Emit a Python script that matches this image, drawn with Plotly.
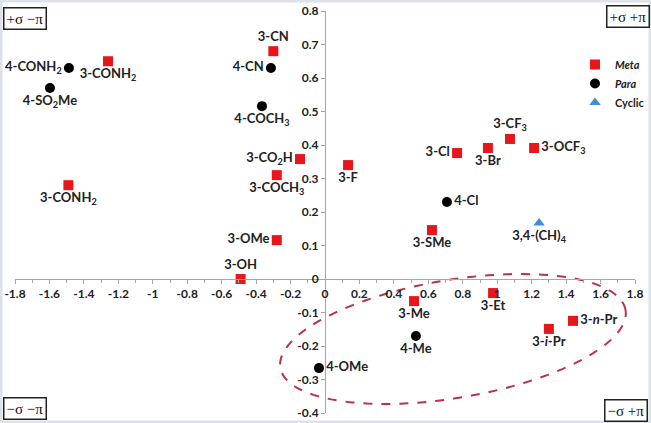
import numpy as np
import plotly.graph_objects as go

# ---------------- data ----------------
meta_labels = ["3-CONH<sub>2</sub>", "3-CONH<sub>2</sub>", "3-CN", "3-CO<sub>2</sub>H", "3-COCH<sub>3</sub>",
               "3-F", "3-OMe", "3-OH", "3-Cl", "3-Br", "3-CF<sub>3</sub>", "3-OCF<sub>3</sub>", "3-SMe",
               "3-Me", "3-Et", "3-<i>i</i>-Pr", "3-<i>n</i>-Pr"]
meta_pi = [-1.26, -1.49, -0.30, -0.145, -0.28, 0.134, -0.28, -0.49, 0.767, 0.946, 1.074, 1.214, 0.621,
           0.517, 0.976, 1.30, 1.44]
meta_sigma = [0.65, 0.28, 0.68, 0.358, 0.31, 0.34, 0.116, 0.0, 0.376, 0.391, 0.418, 0.391, 0.146,
              -0.066, -0.042, -0.149, -0.125]
meta_textpos = ["bottom center", "bottom center", "top center", "middle left", "bottom center",
                "bottom center", "middle left", "top center", "middle left", "bottom center", "top center",
                "middle right", "bottom center", "bottom center", "bottom center", "bottom center",
                "middle right"]

para_labels = ["4-CONH<sub>2</sub>", "4-SO<sub>2</sub>Me", "4-CN", "4-COCH<sub>3</sub>", "4-Cl", "4-Me", "4-OMe"]
para_pi = [-1.487, -1.597, -0.314, -0.366, 0.708, 0.528, -0.035]
para_sigma = [0.63, 0.57, 0.63, 0.516, 0.23, -0.17, -0.266]
para_textpos = ["middle left", "bottom center", "middle left", "bottom center", "middle right",
                "bottom center", "middle right"]

cyc_labels = ["3,4-(CH)<sub>4</sub>"]
cyc_pi = [1.243]
cyc_sigma = [0.167]
cyc_textpos = ["bottom center"]

x_tickvals = [-1.8, -1.6, -1.4, -1.2, -1.0, -0.8, -0.6, -0.4, -0.2, 0, 0.2, 0.4, 0.6, 0.8, 1.0, 1.2, 1.4, 1.6, 1.8]
x_ticktext = ["-1.8", "-1.6", "-1.4", "-1.2", "-1", "-0.8", "-0.6", "-0.4", "-0.2", "0", "0.2", "0.4",
              "0.6", "0.8", "1", "1.2", "1.4", "1.6", "1.8"]
y_tickvals = [-0.4, -0.3, -0.2, -0.1, 0, 0.1, 0.2, 0.3, 0.4, 0.5, 0.6, 0.7, 0.8]
y_ticktext = ["-0.4", "-0.3", "-0.2", "-0.1", "0", "0.1", "0.2", "0.3", "0.4", "0.5", "0.6", "0.7", "0.8"]

quadrant_labels = ["+σ −π", "+σ +π", "−σ −π", "−σ +π"]

# ellipse (center in data units, semi-axes in pixels, tilt in degrees)
ell_center = (0.743, -0.179)
ell_axes_px = (175, 59)
ell_tilt_deg = 9.5

# ---------------- layout geometry ----------------
W, H = 651, 423
ML, MR, MT, MB = 15, 16, 11, 10
XR = (-1.8, 1.8)
YR = (-0.4, 0.8)
pw, ph = W - ML - MR, H - MT - MB
sx = pw / (XR[1] - XR[0])
sy = ph / (YR[1] - YR[0])

lab_font = dict(family="Lato, Open Sans, sans-serif", size=13, color="#222222", weight="bold")

fig = go.Figure()
fig.add_trace(go.Scatter(x=meta_pi, y=meta_sigma, mode="markers+text", text=meta_labels,
                         textposition=meta_textpos, name="<i>Meta</i>", cliponaxis=False,
                         marker=dict(symbol="square", size=10, color="#E8151B"),
                         textfont=lab_font))
fig.add_trace(go.Scatter(x=para_pi, y=para_sigma, mode="markers+text", text=para_labels,
                         textposition=para_textpos, name="<i>Para</i>", cliponaxis=False,
                         marker=dict(symbol="circle", size=10, color="#000000"),
                         textfont=lab_font))
fig.add_trace(go.Scatter(x=cyc_pi, y=cyc_sigma, mode="markers+text", text=cyc_labels,
                         textposition=cyc_textpos, name="Cyclic", cliponaxis=False,
                         marker=dict(symbol="triangle-up", size=10, color="#3D8FD8"),
                         textfont=lab_font))

# ellipse path
t = np.linspace(0, 2 * np.pi, 121)
phi = np.deg2rad(ell_tilt_deg)
a, b = ell_axes_px
dxp = a * np.cos(t) * np.cos(phi) - b * np.sin(t) * np.sin(phi)
dyp = a * np.cos(t) * np.sin(phi) + b * np.sin(t) * np.cos(phi)
ex = ell_center[0] + dxp / sx
ey = ell_center[1] + dyp / sy
path = "M " + " L ".join(f"{u:.4f},{v:.4f}" for u, v in zip(ex, ey)) + " Z"
fig.add_shape(type="path", path=path, xref="x", yref="y", layer="below",
              line=dict(color="#B8324E", width=2, dash="dash"))

# light outer border
fig.add_shape(type="rect", xref="paper", yref="paper",
              x0=-ML / pw, x1=(W - ML) / pw, y0=-MB / ph, y1=(H - MB) / ph,
              line=dict(color="#DCE2E8", width=5), layer="below")

# quadrant boxes
def px_to_paper(px, py):
    return (px - ML) / pw, (H - MB - py) / ph

q_pos = [((3, 7), "left", "top"), ((650, 5), "right", "top"),
         ((3, 420), "left", "bottom"), ((648, 422), "right", "bottom")]
for txt, ((px, py), xa, ya) in zip(quadrant_labels, q_pos):
    qx, qy = px_to_paper(px, py)
    fig.add_annotation(x=qx, y=qy, xref="paper", yref="paper", xanchor=xa, yanchor=ya,
                       text=txt, showarrow=False,
                       font=dict(family="Liberation Serif, DejaVu Serif, serif", size=15, color="#111111"),
                       bordercolor="#222222", borderwidth=1.5, borderpad=2, bgcolor="white")

tick_font = dict(family="Lato, Open Sans, sans-serif", size=12, color="#222222", weight="bold")
fig.update_layout(
    width=W, height=H,
    margin=dict(l=ML, r=MR, t=MT, b=MB, autoexpand=False),
    paper_bgcolor="white", plot_bgcolor="white",
    showlegend=True,
    legend=dict(x=px_to_paper(650, 0)[0], y=px_to_paper(0, 50)[1], xanchor="right", yanchor="top",
                bgcolor="rgba(0,0,0,0)", font=dict(family="Lato, Open Sans, sans-serif", size=11,
                                                  color="#222222", weight="bold"),
                itemwidth=30, tracegroupgap=0),
    xaxis=dict(range=list(XR), anchor="free", position=(0 - YR[0]) / (YR[1] - YR[0]),
               automargin=False,
               showgrid=False, zeroline=False, showline=True, linecolor="#A6A6A6", linewidth=1,
               tickvals=x_tickvals, ticktext=x_ticktext, ticks="outside", ticklen=4,
               tickcolor="#A6A6A6", tickfont=tick_font,
               minor=dict(dtick=0.1, ticks="outside", ticklen=3, tickcolor="#A6A6A6")),
    yaxis=dict(range=list(YR), anchor="free", position=(0 - XR[0]) / (XR[1] - XR[0]),
               automargin=False,
               showgrid=False, zeroline=False, showline=True, linecolor="#A6A6A6", linewidth=1,
               tickvals=y_tickvals, ticktext=y_ticktext, ticks="outside", ticklen=4,
               tickcolor="#A6A6A6", tickfont=tick_font),
)

fig.write_html("out.html", config={"displayModeBar": False},
               post_script="document.body.style.margin='0';document.body.style.overflow='hidden';")
